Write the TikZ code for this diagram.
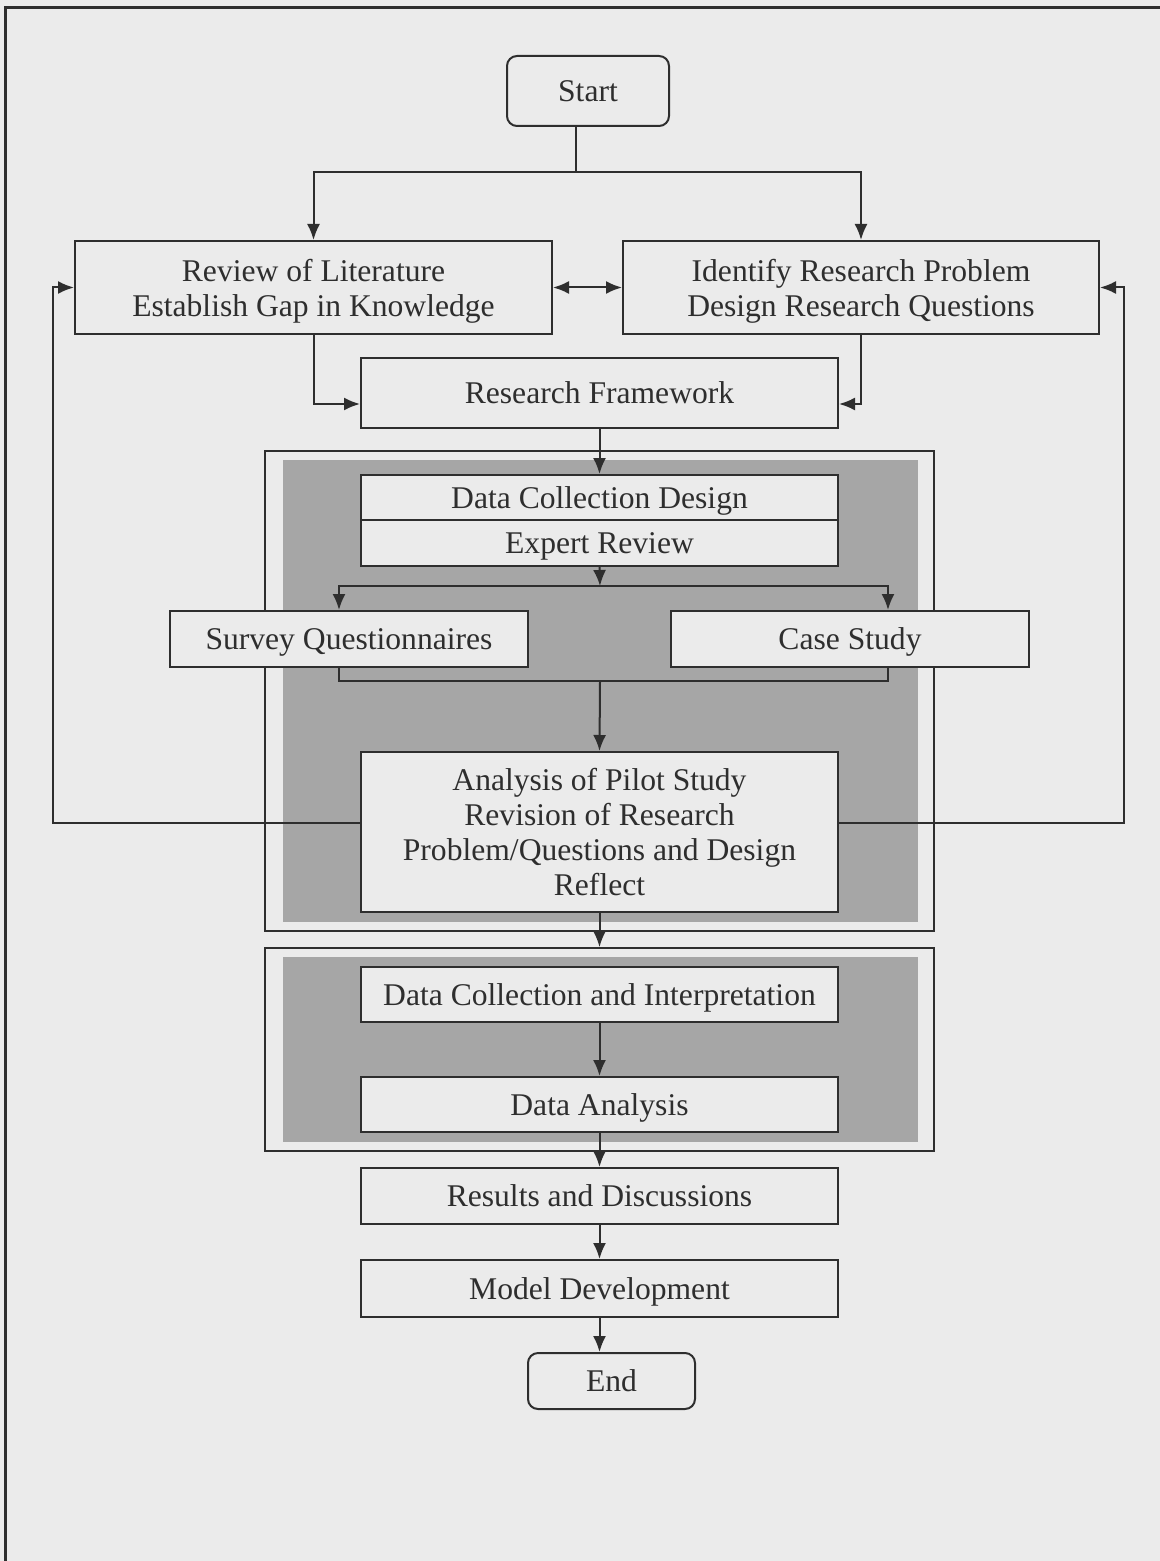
\documentclass[tikz,border=0pt]{standalone}
\usepackage{fontspec}
\setmainfont{Liberation Serif}
\usetikzlibrary{arrows.meta}
\definecolor{paper}{HTML}{EBEBEB}
\definecolor{ink}{HTML}{2E2E2E}
\definecolor{tone}{HTML}{A6A6A6}
\begin{document}
\begin{tikzpicture}[x=0.5pt,y=-0.5pt,
  every node/.style={font=\fontsize{15.8}{17.5}\selectfont, text=ink},
  sz/.style 2 args={minimum width={#1*0.5pt}, minimum height={#2*0.5pt}},
  box/.style={draw=ink, line width=1pt, fill=paper, inner sep=0pt, align=center, text depth=0pt},
  term/.style={box, rounded corners=5pt},
  group/.style={draw=ink, line width=0.9pt, fill=paper, inner sep=0pt},
  link/.style={draw=ink, line width=1pt},
  tip/.tip={Latex[length=8pt,width=6.5pt]},
  arr/.style={link, -tip},
  dbl/.style={link, tip-tip}]

% page and frame
\fill[paper] (0,0) rectangle (1160,1561);
\useasboundingbox (0,0) rectangle (1160,1561);
\draw[ink, line width=1.5pt] (5,1561) -- (5,8) -- (1160,8);

% grouped stages with a darker backdrop
\node[group, sz={669}{480}] (grp1) at (599.5,691) {};
\fill[tone] (283,460) rectangle (918,922);
\node[group, sz={669}{203}] (grp2) at (599.5,1049.5) {};
\fill[tone] (283,957) rectangle (918,1142);

% nodes
\node[term, sz={162}{70}] (start) at (588,91) {Start};
\node[box, sz={477}{93}] (review) at (313.5,287.5) {Review of Literature\\Establish Gap in Knowledge};
\node[box, sz={476}{93}] (ident) at (861,287.5) {Identify Research Problem\\Design Research Questions};
\node[box, sz={477}{70}] (frame) at (599.5,393) {Research Framework};
\node[box, sz={477}{45}] (dcd) at (599.5,497.5) {Data Collection Design};
\node[box, sz={477}{46}] (expert) at (599.5,543) {Expert Review};
\node[box, sz={358}{56}] (survey) at (349,639) {Survey Questionnaires};
\node[box, sz={358}{56}] (case) at (850,639) {Case Study};
\node[box, sz={477}{160}] (pilot) at (599.5,832) {Analysis of Pilot Study\\Revision of Research\\Problem/Questions and Design\\Reflect};
\node[box, sz={477}{55}] (dci) at (599.5,994.5) {Data Collection and Interpretation};
\node[box, sz={477}{55}] (da) at (599.5,1104.5) {Data Analysis};
\node[box, sz={477}{56}] (results) at (599.5,1196) {Results and Discussions};
\node[box, sz={477}{57}] (model) at (599.5,1288.5) {Model Development};
\node[term, sz={167}{56}] (end) at (611.5,1381) {End};

% junction points
\coordinate (split) at (576,172);
\coordinate (fork) at (600,586);
\coordinate (join) at (600,681);
\coordinate (backL) at (53,823);
\coordinate (backR) at (1124,823);

% connectors
\draw[link] (start.south -| split) -- (split);
\draw[arr] (split) -| (review.north);
\draw[arr] (split) -| (ident.north);
\draw[dbl] (review.east) -- (ident.west);
\draw[arr] (review.south) |- ([yshift=-5.5pt]frame.west);
\draw[arr] (ident.south) |- ([yshift=-5.5pt]frame.east);
\draw[arr] (frame.south) -- (dcd.north);
\draw[arr] (expert.south) -- (fork);
\draw[arr] (fork) -| ([xshift=-5pt]survey.north);
\draw[arr] (fork) -| ([xshift=19pt]case.north);
\draw[link] ([xshift=-5pt]survey.south) |- (join);
\draw[link] ([xshift=19pt]case.south) |- (join);
\draw[arr] (join) -- (pilot.north);
\draw[arr] ([yshift=4.5pt]pilot.west) -- (backL) |- (review.west);
\draw[arr] ([yshift=4.5pt]pilot.east) -- (backR) |- (ident.east);
\draw[arr] (pilot.south) -- (grp2.north);
\draw[arr] (dci.south) -- (da.north);
\draw[arr] (da.south) -- (results.north);
\draw[arr] (results.south) -- (model.north);
\draw[arr] (model.south) -- (model.south |- end.north);
\end{tikzpicture}
\end{document}
